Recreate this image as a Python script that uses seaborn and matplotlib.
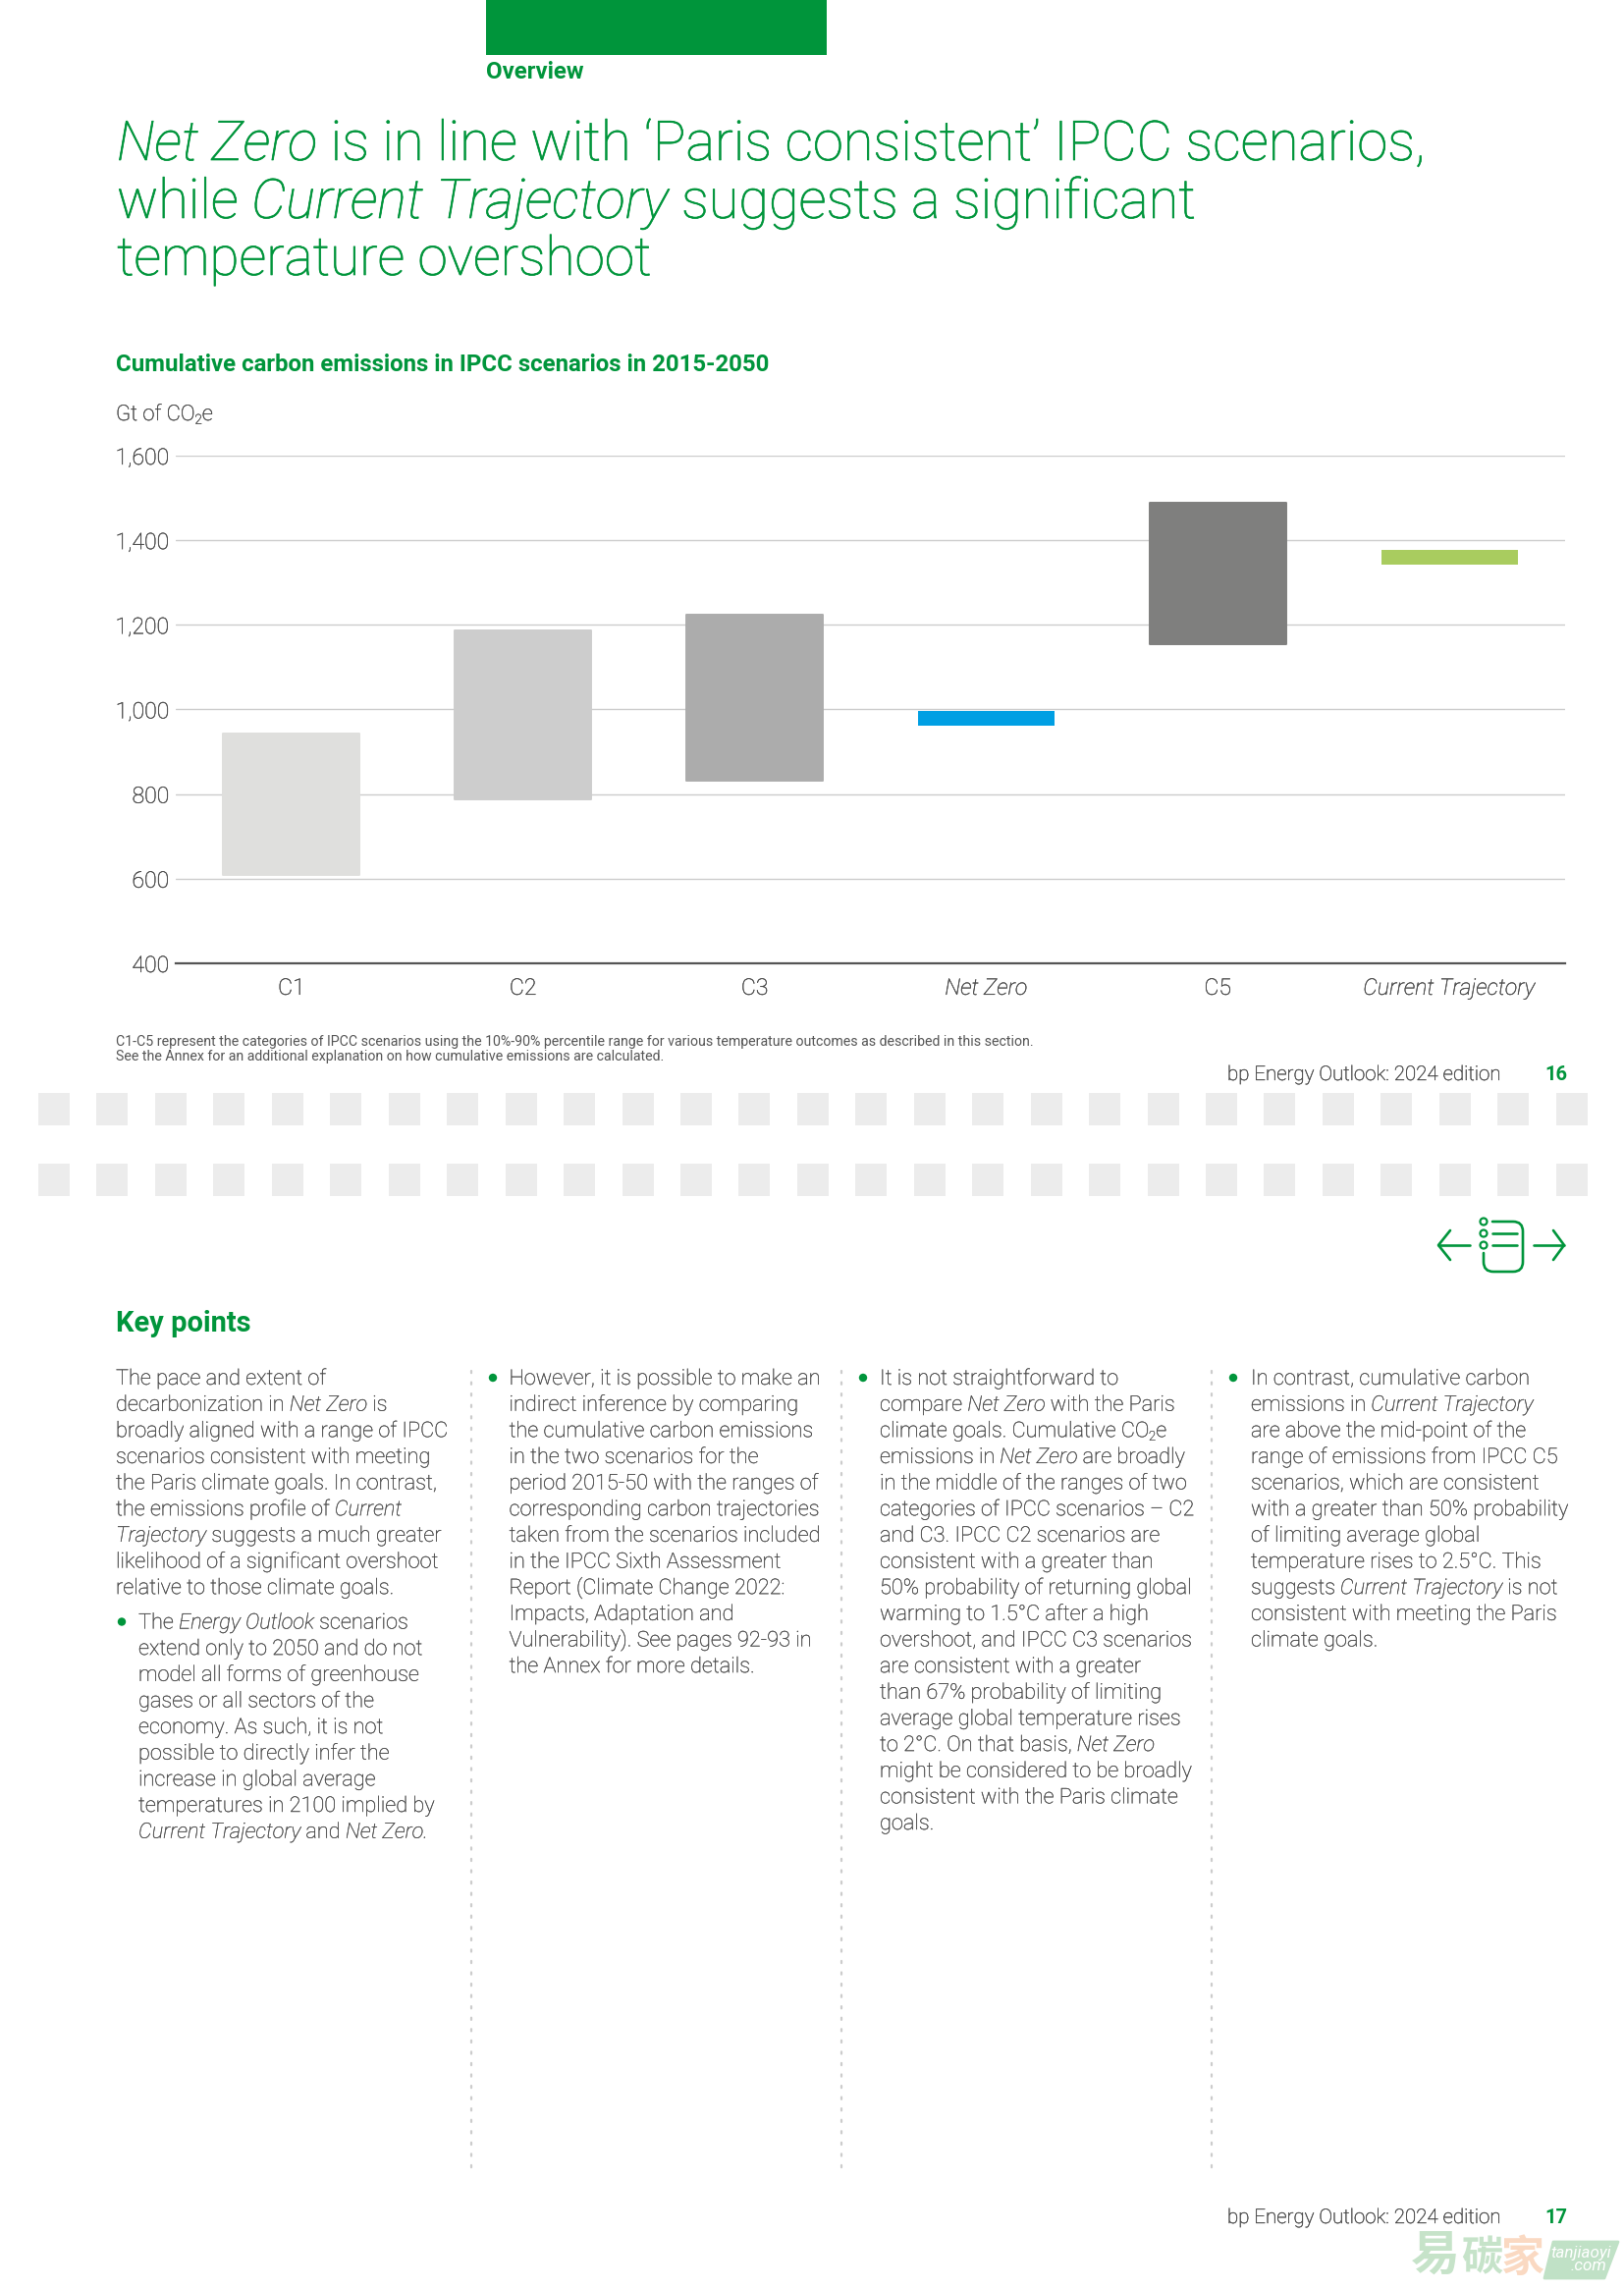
import matplotlib
matplotlib.use("Agg")
import matplotlib.pyplot as plt
import matplotlib.patheffects as pe
from matplotlib.patches import Rectangle, Circle, PathPatch
from matplotlib.path import Path
import seaborn as sns
import pandas as pd

W, H = 1654, 2331

# chart values, Gt of CO2e
categories = ["C1", "C2", "C3", "Net Zero", "C5", "Current Trajectory"]
range_low = [608, 788, 831, 962, 1155, 1343]
range_high = [944, 1187, 1224, 996, 1488, 1378]
bar_colors = ["#dfdfdd", "#cdcdcd", "#acacac", "#009fe3", "#7f7f7e", "#a9cc5f"]
rounded = [True, True, True, False, True, False]
y_ticks = [400, 600, 800, 1000, 1200, 1400, 1600]

GREEN = "#00953b"
GREY = "#464646"
THIN = [pe.withStroke(linewidth=0.25, foreground=GREY)]

sns.set_theme(style="white")
plt.rcParams["font.family"] = ["Roboto", "DejaVu Sans"]

fig = plt.figure(figsize=(W / 100, H / 100), dpi=100, facecolor="white")

# whole page axes in pixel coordinates, for all the page furniture
bg = fig.add_axes([0, 0, 1, 1])
bg.set_xlim(0, W)
bg.set_ylim(H, 0)
bg.axis("off")


def px(size):
    return size * 0.72


def runs(x, y, parts, size, color=GREY, weight="light", stroke=0.0):
    """Draw a line of text with mixed styles. parts: (text, 'n'|'i'|'s')"""
    rend = fig.canvas.get_renderer()
    for txt, kind in parts:
        fs = size * 0.62 if kind == "s" else size
        yy = y + size * 0.16 if kind == "s" else y
        style = "italic" if kind == "i" else "normal"
        t = bg.text(x, yy, txt, fontsize=px(fs), color=color, weight=weight, style=style,
                    va="baseline", ha="left")
        if stroke:
            t.set_path_effects([pe.withStroke(linewidth=stroke, foreground=color)])
        # trailing spaces are not measured, so measure with a dot on the end
        probe = bg.text(0, 0, txt + ".", fontsize=px(fs), weight=weight, style=style)
        dot = bg.text(0, 0, ".", fontsize=px(fs), weight=weight, style=style)
        x += probe.get_window_extent(rend).width - dot.get_window_extent(rend).width
        probe.remove()
        dot.remove()
    return x


# top green tab and section label
bg.add_patch(Rectangle((495, 0), 347, 56, color=GREEN, lw=0))
bg.text(495, 80, "Overview", fontsize=px(24), color=GREEN, weight="bold", va="baseline")

# headline
runs(119, 163, [("Net Zero", "i"), (" is in line with ‘Paris consistent’ IPCC scenarios,", "n")], 56, GREEN, stroke=0.5)
runs(119, 222, [("while ", "n"), ("Current Trajectory", "i"), (" suggests a significant", "n")], 55.8, GREEN, stroke=0.5)
runs(119, 280, [("temperature overshoot", "n")], 55, GREEN, stroke=0.5)

bg.text(118, 378, "Cumulative carbon emissions in IPCC scenarios in 2015-2050", fontsize=px(24.05),
        color=GREEN, weight="bold", va="baseline")
runs(118, 428, [("Gt of CO", "n"), ("2", "s"), ("e", "n")], 22, GREY, stroke=0.25)

# chart
ax_left, ax_right, ax_top, ax_bottom = 179, 1594, 464, 981
ax = fig.add_axes([ax_left / W, 1 - ax_bottom / H, (ax_right - ax_left) / W, (ax_bottom - ax_top) / H])
ax.patch.set_alpha(0)
df = pd.DataFrame({"scenario": categories, "low": range_low, "high": range_high})
df["span"] = df["high"] - df["low"]
sns.barplot(data=df, x="scenario", y="span", bottom=df["low"].values, color="#999999", width=0.59,
            saturation=1, ax=ax, zorder=3)
for bar, c, r in zip(ax.patches, bar_colors, rounded):
    bar.set_facecolor(c)
    if r:
        bar.set_edgecolor(c)
        bar.set_linewidth(1.4)
        bar.set_joinstyle("round")
    else:
        bar.set_edgecolor("none")
ax.set_ylim(400, 1600)
ax.set_xlim(-0.5, len(categories) - 0.5)
ax.set_yticks(y_ticks)
ax.set_yticklabels([f"{v:,}" for v in y_ticks], fontsize=px(23), color=GREY, weight="light")
ax.set_xticks(range(len(categories)))
ax.set_xticklabels(categories, fontsize=px(23), color=GREY, weight="light")
for lab in ax.get_xticklabels():
    if lab.get_text() in ("Net Zero", "Current Trajectory"):
        lab.set_style("italic")
for lab in ax.get_xticklabels() + ax.get_yticklabels():
    lab.set_path_effects(THIN)
ax.set_xlabel("")
ax.set_ylabel("")
ax.grid(axis="y", color="#cccccc", lw=1.0, zorder=0)
ax.set_axisbelow(True)
ax.tick_params(axis="both", length=0)
ax.tick_params(axis="y", pad=5)
ax.tick_params(axis="x", pad=10)
sns.despine(ax=ax, left=True, top=True, right=True)
ax.spines["bottom"].set_color("#555555")
ax.spines["bottom"].set_linewidth(1.6)

# footnote and page footers
bg.text(118, 1065, "C1-C5 represent the categories of IPCC scenarios using the 10%-90% percentile range for various temperature outcomes as described in this section.",
        fontsize=px(14.08), color="#555555", weight="normal", va="baseline")
bg.text(118, 1080, "See the Annex for an additional explanation on how cumulative emissions are calculated.",
        fontsize=px(14.08), color="#555555", weight="normal", va="baseline")
for y, page in [(1100, "16"), (2264, "17")]:
    foot = bg.text(1250, y, "bp Energy Outlook: 2024 edition", fontsize=px(20.5), color=GREY, weight="light", va="baseline")
    foot.set_path_effects(THIN)
    bg.text(1596, y, page, fontsize=px(20), color=GREEN, weight="bold", va="baseline", ha="right")

# page break bands
for y0 in (1113, 1185):
    for i in range(27):
        bg.add_patch(Rectangle((39 + i * 59.45, y0), 32, 33, color="#ececec", lw=0))

# navigation icon
ic = dict(color=GREEN, lw=1.9, solid_capstyle="round", solid_joinstyle="round")
bg.plot([1497, 1465], [1268, 1268], **ic)
bg.plot([1477, 1465, 1477], [1253, 1268, 1283], **ic)
bg.plot([1562, 1593], [1268, 1268], **ic)
bg.plot([1582, 1593, 1582], [1253, 1268, 1283], **ic)
for cy in (1244, 1256, 1268):
    bg.add_patch(Circle((1511, cy), 3.5, fill=False, ec=GREEN, lw=1.6))
bg.plot([1520, 1545], [1256, 1256], **ic)
bg.plot([1520, 1545], [1268, 1268], **ic)
verts = [(1520, 1244), (1541, 1244), (1551, 1244), (1551, 1254), (1551, 1285), (1551, 1295), (1541, 1295),
         (1521, 1295), (1511, 1295), (1511, 1285), (1511, 1276)]
codes = [Path.MOVETO, Path.LINETO, Path.CURVE3, Path.CURVE3, Path.LINETO, Path.CURVE3, Path.CURVE3,
         Path.LINETO, Path.CURVE3, Path.CURVE3, Path.LINETO]
bg.add_patch(PathPatch(Path(verts, codes), fill=False, ec=GREEN, lw=1.9, capstyle="round"))

bg.text(118, 1356, "Key points", fontsize=px(29), color=GREEN, weight="bold", va="baseline")

# body text, one list of runs per printed line
col1_a = [
    [("The pace and extent of", "n")],
    [("decarbonization in ", "n"), ("Net Zero", "i"), (" is", "n")],
    [("broadly aligned with a range of IPCC", "n")],
    [("scenarios consistent with meeting", "n")],
    [("the Paris climate goals. In contrast,", "n")],
    [("the emissions profile of ", "n"), ("Current", "i")],
    [("Trajectory", "i"), (" suggests a much greater", "n")],
    [("likelihood of a significant overshoot", "n")],
    [("relative to those climate goals.", "n")],
]
col1_b = [
    [("The ", "n"), ("Energy Outlook", "i"), (" scenarios", "n")],
    [("extend only to 2050 and do not", "n")],
    [("model all forms of greenhouse", "n")],
    [("gases or all sectors of the", "n")],
    [("economy. As such, it is not", "n")],
    [("possible to directly infer the", "n")],
    [("increase in global average", "n")],
    [("temperatures in 2100 implied by", "n")],
    [("Current Trajectory", "i"), (" and ", "n"), ("Net Zero.", "i")],
]
col2 = [
    [("However, it is possible to make an", "n")],
    [("indirect inference by comparing", "n")],
    [("the cumulative carbon emissions", "n")],
    [("in the two scenarios for the", "n")],
    [("period 2015-50 with the ranges of", "n")],
    [("corresponding carbon trajectories", "n")],
    [("taken from the scenarios included", "n")],
    [("in the IPCC Sixth Assessment", "n")],
    [("Report (Climate Change 2022:", "n")],
    [("Impacts, Adaptation and", "n")],
    [("Vulnerability). See pages 92-93 in", "n")],
    [("the Annex for more details.", "n")],
]
col3 = [
    [("It is not straightforward to", "n")],
    [("compare ", "n"), ("Net Zero", "i"), (" with the Paris", "n")],
    [("climate goals. Cumulative CO", "n"), ("2", "s"), ("e", "n")],
    [("emissions in ", "n"), ("Net Zero", "i"), (" are broadly", "n")],
    [("in the middle of the ranges of two", "n")],
    [("categories of IPCC scenarios – C2", "n")],
    [("and C3. IPCC C2 scenarios are", "n")],
    [("consistent with a greater than", "n")],
    [("50% probability of returning global", "n")],
    [("warming to 1.5°C after a high", "n")],
    [("overshoot, and IPCC C3 scenarios", "n")],
    [("are consistent with a greater", "n")],
    [("than 67% probability of limiting", "n")],
    [("average global temperature rises", "n")],
    [("to 2°C. On that basis, ", "n"), ("Net Zero", "i")],
    [("might be considered to be broadly", "n")],
    [("consistent with the Paris climate", "n")],
    [("goals.", "n")],
]
col4 = [
    [("In contrast, cumulative carbon", "n")],
    [("emissions in ", "n"), ("Current Trajectory", "i")],
    [("are above the mid-point of the", "n")],
    [("range of emissions from IPCC C5", "n")],
    [("scenarios, which are consistent", "n")],
    [("with a greater than 50% probability", "n")],
    [("of limiting average global", "n")],
    [("temperature rises to 2.5°C. This", "n")],
    [("suggests ", "n"), ("Current Trajectory", "i"), (" is not", "n")],
    [("consistent with meeting the Paris", "n")],
    [("climate goals.", "n")],
]

BODY = 21.75
PITCH = 26.65


def para(x, y, lines, bullet_x=None):
    for i, parts in enumerate(lines):
        runs(x, y + i * PITCH, parts, BODY, GREY, stroke=0.15)
    if bullet_x is not None:
        bg.add_patch(Circle((bullet_x, y - 7), 4.2, color=GREEN, lw=0))


para(118, 1410, col1_a)
para(141, 1658.5, col1_b, 124)
para(518.5, 1410, col2, 502)
para(896, 1410, col3, 879)
para(1274, 1410, col4, 1256)

# dotted column rules
for x in (480, 857, 1234):
    bg.plot([x, x], [1396, 2214], color="#cccccc", lw=1.6, linestyle=(0, (1, 4.2)), dash_capstyle="round")

# site watermark at the foot of the page
cjk = ["Noto Sans CJK SC", "DejaVu Sans"]
bg.text(1462, 2297, "易", family=cjk, fontsize=px(50), color="#c6e3c9", weight="bold", ha="center", va="center")
bg.text(1509, 2300, "碳", family=cjk, fontsize=px(42), color="#c6e3c9", weight="bold", ha="center", va="center")
bg.text(1550, 2300, "家", family=cjk, fontsize=px(44), color="#fad9c2", weight="bold", ha="center", va="center")
badge = Path([(1582, 2283), (1648, 2283), (1634, 2320), (1573, 2320), (1582, 2283)],
             [Path.MOVETO, Path.LINETO, Path.LINETO, Path.LINETO, Path.CLOSEPOLY])
bg.add_patch(PathPatch(badge, fc="#c0e1c6", ec="#c0e1c6", lw=2, joinstyle="round"))
bg.text(1610, 2294, "tanjiaoyi", fontsize=px(17), color="white", style="italic", ha="center", va="center")
bg.text(1618, 2308, ".com", fontsize=px(17), color="white", style="italic", ha="center", va="center")

fig.savefig("out.png", dpi=100, facecolor="white")
